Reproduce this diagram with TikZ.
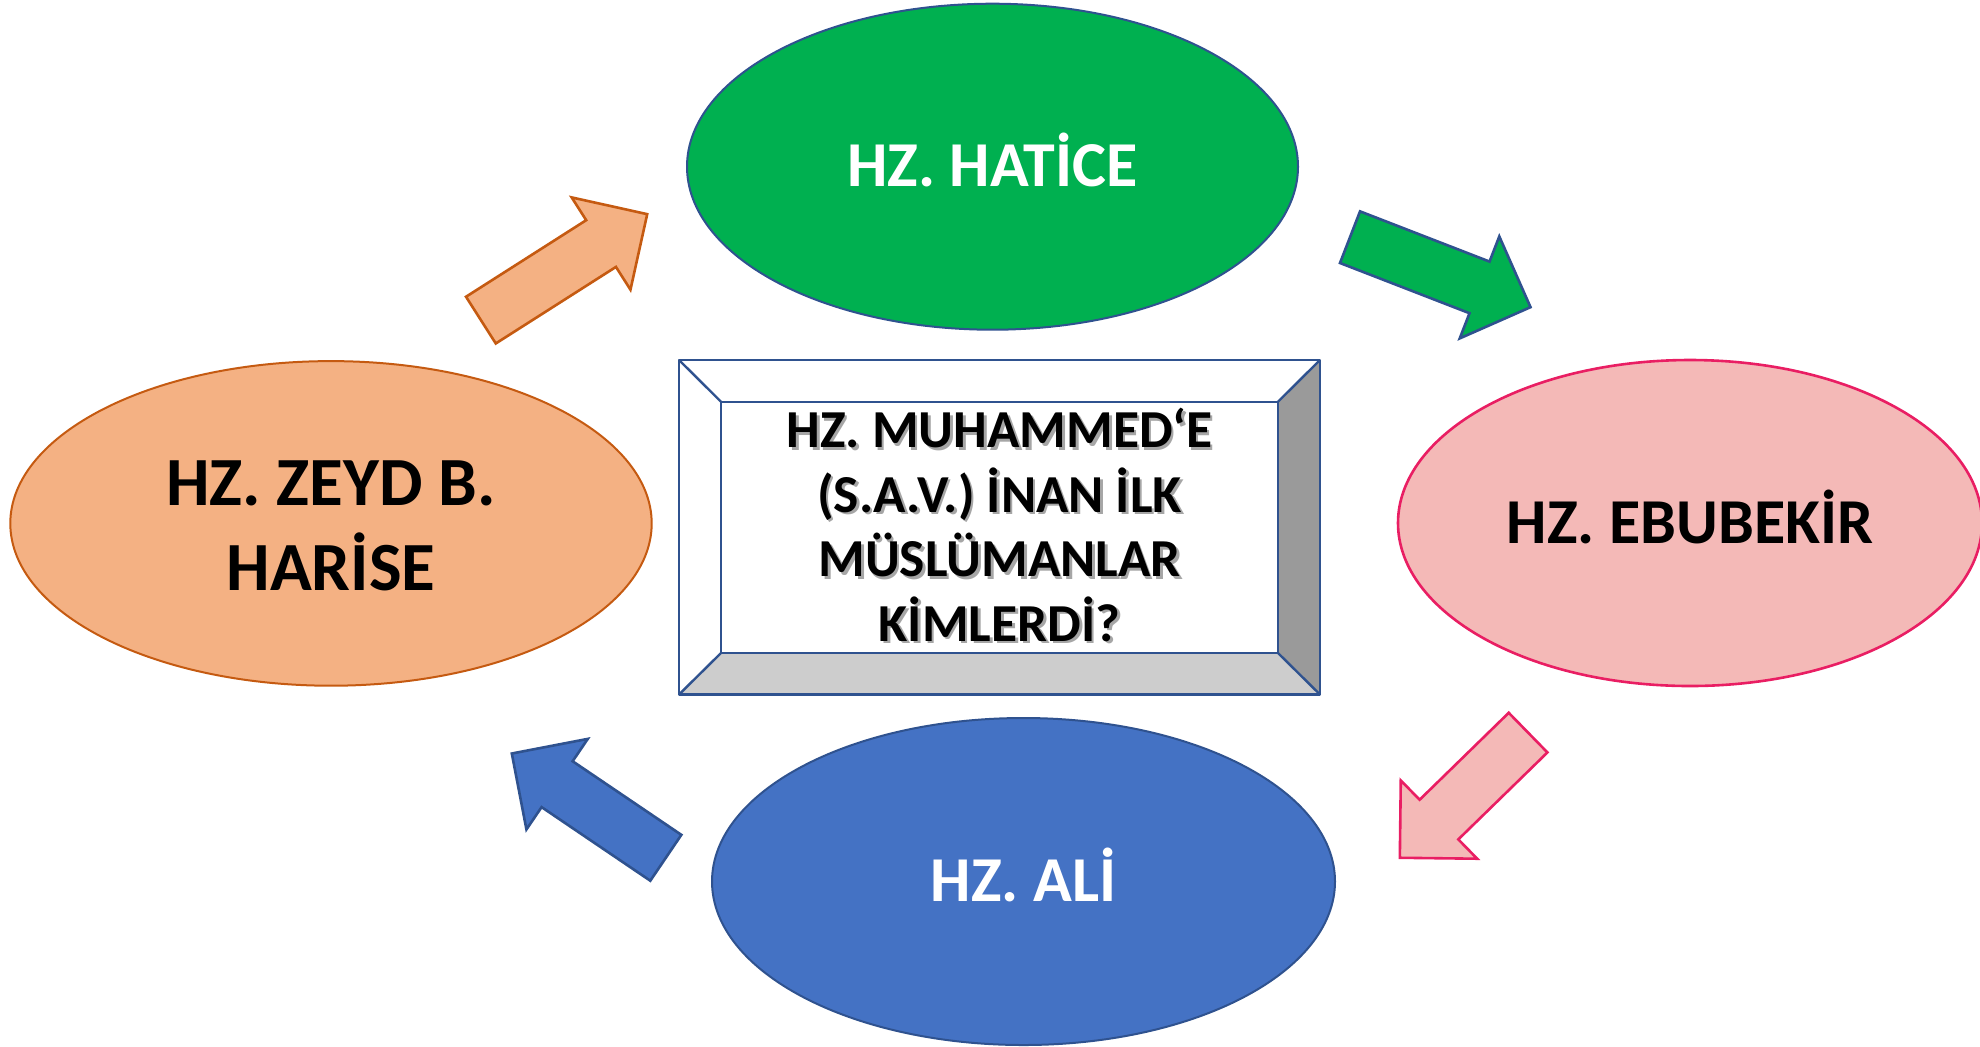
\documentclass[tikz,border=0pt]{standalone}
\usepackage{fontspec}
\setmainfont{Carlito}
\usetikzlibrary{shapes.geometric, shapes.arrows, positioning}

\definecolor{hatgreen}{HTML}{00B050}
\definecolor{edgeblue}{HTML}{2F528F}
\definecolor{zeyfill}{HTML}{F4B183}
\definecolor{zeyedge}{HTML}{C55A11}
\definecolor{ebufill}{HTML}{F4B9B7}
\definecolor{ebuedge}{HTML}{E91E63}
\definecolor{alifill}{HTML}{4472C4}
\definecolor{bevelside}{HTML}{9A9A9A}
\definecolor{bevelfoot}{HTML}{CDCDCD}

\begin{document}
\begin{tikzpicture}[
    x=0.5pt, y=-0.5pt,
    person/.style={draw, ellipse, line width=1pt, inner sep=0pt, align=center,
        font=\bfseries\fontsize{32pt}{41.5pt}\selectfont},
    oneline/.style={text height=20.2pt, text depth=0pt},
    blockarrow/.style={single arrow, draw, line width=1.3pt, inner sep=0pt, inner ysep=13.2pt,
        single arrow head extend=13.5pt, single arrow tip angle=90, anchor=tail},
    bevel/.style={draw=edgeblue, line width=1.2pt, line join=round},
    question/.style={inner sep=0pt, align=center, font=\bfseries\fontsize{26.7pt}{32.25pt}\selectfont}
]
\useasboundingbox (0,0) rectangle (1980,1046);

% The four people, placed explicitly
\node[person, oneline, fill=hatgreen, draw=edgeblue, text=white,
      minimum width=305.5pt, minimum height=163pt] (hatice) at (992.5,166.7) {HZ. HATİCE};
\node[person, fill=zeyfill, draw=zeyedge, font=\bfseries\fontsize{34.5pt}{42.4pt}\selectfont,
      minimum width=320.7pt, minimum height=162.3pt] (zeyd) at (331,523.4) {};
\node[font=\bfseries\fontsize{34.5pt}{42.4pt}\selectfont, align=center, inner sep=0pt]
      (zeydtext) at (331,526) {HZ. ZEYD B.\\HARİSE};
\node[person, oneline, fill=ebufill, draw=ebuedge, line width=1.3pt,
      minimum width=292pt, minimum height=163pt] (ebubekir) at (1690,523) {HZ. EBUBEKİR};
\node[person, oneline, fill=alifill, draw=edgeblue, text=white,
      minimum width=311.5pt, minimum height=163.5pt] (ali) at (1023.5,881.5) {HZ. ALİ};

% Bevelled frame in the middle
\node[fill=white, inner sep=0pt, outer sep=0pt,
      minimum width=320.5pt, minimum height=167.25pt] (frame) at (999.5,527.25) {};
\coordinate (facecenter) at (999.5,527.35);
\node[inner sep=0pt, outer sep=0pt,
      minimum width=278.5pt, minimum height=125.65pt] (face) at (facecenter) {};
\fill[bevelside] (frame.north east) -- (face.north east) -- (face.south east) -- (frame.south east) -- cycle;
\fill[bevelfoot] (frame.south west) -- (face.south west) -- (face.south east) -- (frame.south east) -- cycle;
\foreach \c in {north west, north east, south west, south east}
    \draw[bevel] (frame.\c) -- (face.\c);
\draw[bevel] (frame.north west) rectangle (frame.south east);
\draw[bevel] (face.north west) rectangle (face.south east);

% Question text, with its soft shadow
\node[question, text=black!35, xshift=1.3pt, yshift=-1.3pt] (qshadow) at (999.5,525)
    {HZ. MUHAMMED‘E\\(S.A.V.) İNAN İLK\\MÜSLÜMANLAR\\KİMLERDİ?};
\node[question] (qtext) at (999.5,525)
    {HZ. MUHAMMED‘E\\(S.A.V.) İNAN İLK\\MÜSLÜMANLAR\\KİMLERDİ?};

% Block arrows going round clockwise
\node[blockarrow, fill=zeyfill, draw=zeyedge, minimum height=98.6pt, rotate=32.5] (zey2hat) at (479.8,320.8) {};
\node[blockarrow, fill=hatgreen, draw=edgeblue, minimum height=96.8pt, rotate=-21.2] (hat2ebu) at (1348.8,236.7) {};
\node[blockarrow, fill=ebufill, draw=ebuedge, minimum height=89.6pt, rotate=-135.7] (ebu2ali) at (1529,731.7) {};
\node[blockarrow, fill=alifill, draw=edgeblue, minimum height=93pt, rotate=145.9] (ali2zey) at (666.9,858.5) {};
\end{tikzpicture}
\end{document}
